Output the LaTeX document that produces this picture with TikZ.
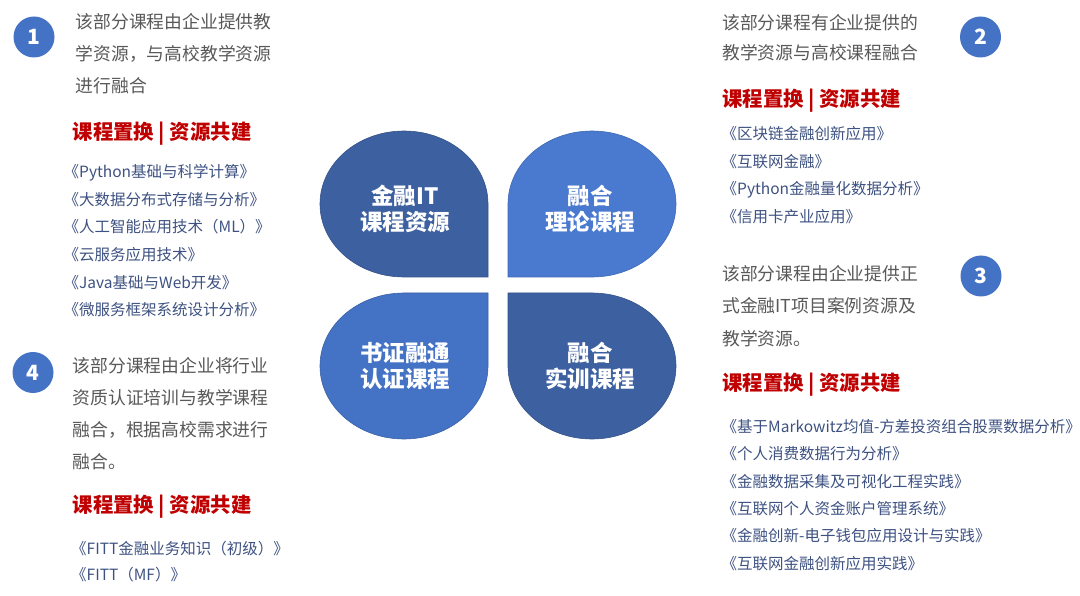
\documentclass[tikz,border=0pt]{standalone}
\usepackage{fontspec}
\setmainfont{Noto Sans CJK SC}
\definecolor{bodygray}{HTML}{595959}
\definecolor{headred}{HTML}{C00000}
\definecolor{bookblue}{HTML}{3E5282}
\definecolor{circblue}{HTML}{4472C4}
\definecolor{darkleaf}{HTML}{3D60A0}
\definecolor{lightleaf}{HTML}{4A7AD0}
\definecolor{midleaf}{HTML}{4472C4}
\begin{document}
\begin{tikzpicture}[x=1pt,y=-1pt,
  body/.style={anchor=base west, inner sep=0pt, text=bodygray, font=\fontsize{17.8}{20}\selectfont},
  head/.style={anchor=base west, inner sep=0pt, text=headred, font=\fontsize{20.4}{24}\selectfont\bfseries},
  book/.style={anchor=base west, inner sep=0pt, text=bookblue, font=\fontsize{15.5}{18}\selectfont},
  ctext/.style={text=white, align=center, inner sep=0pt, font=\fontsize{22.5}{26}\selectfont\bfseries},
  numc/.style={circle, fill=circblue, text=white, minimum size=41pt, inner sep=0pt, font=\fontsize{21}{21}\selectfont\bfseries},
  leaf/.style={draw=#1!85!black, line width=0.6pt, fill=#1}
]
\useasboundingbox (0,0) rectangle (1080,596);
\fill[white] (0,0) rectangle (1080,596);

% leaves
\path[leaf=darkleaf] (488,277) -- (488,204) arc[start angle=0,end angle=-270,x radius=84,y radius=73] -- cycle;
\path[leaf=lightleaf] (508,277) -- (592,277) arc[start angle=90,end angle=-180,x radius=84,y radius=73] -- cycle;
\path[leaf=midleaf] (488,293) -- (404,293) arc[start angle=-90,end angle=-360,x radius=84,y radius=73] -- cycle;
\path[leaf=darkleaf] (508,293) -- (508,366) arc[start angle=180,end angle=-90,x radius=84,y radius=73] -- cycle;

\node[ctext] (c1) at (405,209) {金融IT\\课程资源};
\node[ctext] (c2) at (590,209) {融合\\理论课程};
\node[ctext] (c3) at (405,366) {书证融通\\认证课程};
\node[ctext] (c4) at (590,366) {融合\\实训课程};

% number circles
\node[numc] (n1) at (34,37) {1};
\node[numc] (n2) at (980.5,37) {2};
\node[numc] (n3) at (981,276) {3};
\node[numc] (n4) at (33,372.5) {4};

% block 1
\foreach \t [count=\i] in {{该部分课程由企业提供教},{学资源，与高校教学资源},{进行融合}}
  \node[body] (a\i) at (75.5, 28.8+32*\i-32) {\t};
\node[head] (ah) at (72.5,139.5) {课程置换 | 资源共建};
\foreach \t [count=\i] in {{《Python基础与科学计算》},{《大数据分布式存储与分析》},{《人工智能应用技术（ML）》},{《云服务应用技术》},{《Java基础与Web开发》},{《微服务框架系统设计分析》}}
  \node[book] (ab\i) at (63.5, 177.7+27.6*\i-27.6) {\t};

% block 4
\foreach \t [count=\i] in {{该部分课程由企业将行业},{资质认证培训与教学课程},{融合，根据高校需求进行},{融合。}}
  \node[body] (d\i) at (72.5, 372.8+31.9*\i-31.9) {\t};
\node[head] (dh) at (72.5,512.5) {课程置换 | 资源共建};
\foreach \t [count=\i] in {{《FITT金融业务知识（初级）》},{《FITT（MF）》}}
  \node[book] (db\i) at (71, 554+26.7*\i-26.7) {\t};

% block 2
\foreach \t [count=\i] in {{该部分课程有企业提供的},{教学资源与高校课程融合}}
  \node[body] (b\i) at (722, 29.5+30.5*\i-30.5) {\t};
\node[head] (bh) at (722,106.7) {课程置换 | 资源共建};
\foreach \t [count=\i] in {{《区块链金融创新应用》},{《互联网金融》},{《Python金融量化数据分析》},{《信用卡产业应用》}}
  \node[book] (bb\i) at (721.5, 139.2+27.9*\i-27.9) {\t};

% block 3
\foreach \t [count=\i] in {{该部分课程由企业提供正},{式金融IT项目案例资源及},{教学资源。}}
  \node[body] (e\i) at (722, 280.1+32.5*\i-32.5) {\t};
\node[head] (eh) at (722,390.5) {课程置换 | 资源共建};
\foreach \t [count=\i] in {{《基于Markowitz均值-方差投资组合股票数据分析》},{《个人消费数据行为分析》},{《金融数据采集及可视化工程实践》},{《互联网个人资金账户管理系统》},{《金融创新-电子钱包应用设计与实践》},{《互联网金融创新应用实践》}}
  \node[book] (eb\i) at (721.5, 432.5+27.3*\i-27.3) {\t};
\end{tikzpicture}
\end{document}
